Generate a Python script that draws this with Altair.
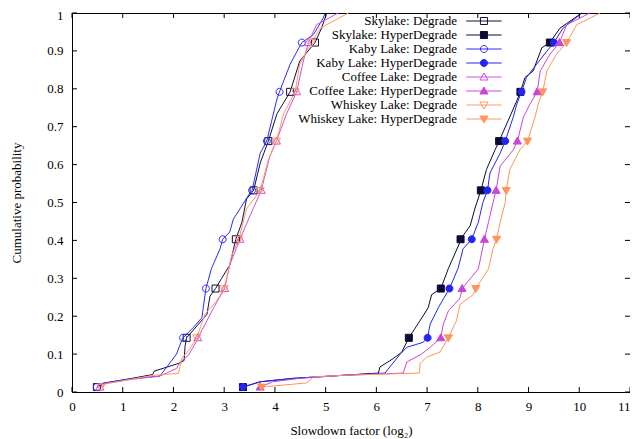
import altair as alt
import pandas as pd

SERIES = ["Skylake: Degrade", "Skylake: HyperDegrade", "Kaby Lake: Degrade",
          "Kaby Lake: HyperDegrade", "Coffee Lake: Degrade", "Coffee Lake: HyperDegrade",
          "Whiskey Lake: Degrade", "Whiskey Lake: HyperDegrade"]

# Skylake: Degrade
SD_X = [0.49, 0.61, 1.10, 1.59, 1.62, 2.09, 2.21, 2.23, 2.26, 2.66, 2.72, 2.83, 2.95, 3.11, 3.23,
        3.35, 3.44, 3.58, 3.71, 3.87, 4.04, 4.30, 4.49, 4.79, 4.92, 5.02]
SD_P = [0.013, 0.023, 0.034, 0.046, 0.055, 0.075, 0.083, 0.122, 0.143, 0.205, 0.253, 0.273, 0.300,
        0.335, 0.403, 0.448, 0.509, 0.532, 0.604, 0.662, 0.734, 0.792, 0.873, 0.922, 0.960, 1.0]
# Skylake: HyperDegrade
SH_X = [3.37, 3.71, 4.36, 5.34, 6.04, 6.07, 6.33, 6.50, 6.64, 6.86, 7.02, 7.09, 7.27, 7.42, 7.65,
        7.66, 7.85, 7.94, 8.06, 8.17, 8.34, 8.42, 8.63, 8.77, 8.84, 8.93, 9.09, 9.26, 9.42, 9.62, 10.05]
SH_P = [0.013, 0.027, 0.036, 0.044, 0.050, 0.066, 0.088, 0.105, 0.143, 0.188, 0.222, 0.257, 0.273,
        0.326, 0.396, 0.403, 0.439, 0.483, 0.532, 0.587, 0.639, 0.662, 0.726, 0.769, 0.792, 0.830,
        0.847, 0.908, 0.922, 0.960, 1.0]
# Kaby Lake: Degrade
KD_X = [0.49, 0.61, 1.10, 1.73, 1.87, 2.06, 2.16, 2.19, 2.39, 2.56, 2.64, 2.75, 2.92, 2.97, 3.11,
        3.18, 3.31, 3.51, 3.55, 3.71, 3.84, 4.04, 4.09, 4.30, 4.53, 4.76, 4.95, 4.99]
KD_P = [0.013, 0.023, 0.034, 0.042, 0.066, 0.100, 0.135, 0.143, 0.170, 0.196, 0.273, 0.326, 0.378,
        0.403, 0.422, 0.456, 0.483, 0.526, 0.532, 0.630, 0.662, 0.773, 0.792, 0.865, 0.922, 0.943,
        0.986, 1.0]
# Kaby Lake: HyperDegrade
KH_X = [3.37, 3.71, 4.36, 5.34, 6.17, 6.47, 6.60, 6.92, 7.01, 7.06, 7.22, 7.44, 7.61, 7.71, 7.88,
        8.01, 8.10, 8.19, 8.24, 8.44, 8.54, 8.70, 8.77, 8.86, 8.96, 9.16, 9.36, 9.50, 9.68, 10.05]
KH_P = [0.013, 0.027, 0.036, 0.044, 0.050, 0.100, 0.118, 0.131, 0.143, 0.179, 0.222, 0.273, 0.326,
        0.378, 0.403, 0.448, 0.500, 0.532, 0.578, 0.630, 0.662, 0.726, 0.760, 0.792, 0.830, 0.865,
        0.899, 0.922, 0.960, 1.0]
# Coffee Lake: Degrade
CD_X = [0.55, 0.65, 1.15, 1.73, 2.06, 2.13, 2.29, 2.46, 2.48, 2.66, 2.79, 3.01, 3.11, 3.31, 3.51,
        3.73, 3.90, 4.03, 4.23, 4.43, 4.56, 4.66, 4.82, 5.25]
CD_P = [0.013, 0.022, 0.033, 0.042, 0.062, 0.079, 0.096, 0.135, 0.143, 0.188, 0.222, 0.273, 0.335,
        0.403, 0.465, 0.532, 0.622, 0.662, 0.734, 0.792, 0.873, 0.922, 0.969, 1.0]
# Coffee Lake: HyperDegrade
CH_X = [3.71, 3.96, 4.49, 5.34, 6.53, 6.60, 6.89, 7.06, 7.27, 7.32, 7.42, 7.65, 7.69, 8.01, 8.08,
        8.13, 8.21, 8.30, 8.36, 8.44, 8.70, 8.78, 8.90, 9.03, 9.17, 9.23, 9.42, 9.61, 9.75, 10.21]
CH_P = [0.013, 0.027, 0.036, 0.044, 0.050, 0.079, 0.100, 0.118, 0.143, 0.179, 0.214, 0.248, 0.273,
        0.325, 0.370, 0.403, 0.448, 0.500, 0.532, 0.596, 0.639, 0.662, 0.726, 0.760, 0.792, 0.847,
        0.891, 0.922, 0.969, 1.0]
# Whiskey Lake: Degrade
WD_X = [0.57, 0.67, 1.15, 1.60, 2.10, 2.16, 2.33, 2.46, 2.62, 2.85, 3.00, 3.15, 3.29, 3.44, 3.71,
        3.87, 4.03, 4.17, 4.40, 4.49, 4.72, 4.89, 5.45]
WD_P = [0.013, 0.022, 0.033, 0.044, 0.049, 0.088, 0.115, 0.143, 0.205, 0.240, 0.273, 0.361, 0.403,
        0.483, 0.532, 0.613, 0.662, 0.734, 0.792, 0.865, 0.922, 0.960, 1.0]
# Whiskey Lake: HyperDegrade
WH_X = [3.74, 4.63, 4.76, 5.34, 6.85, 6.86, 6.99, 7.25, 7.42, 7.58, 7.65, 7.91, 7.96, 8.21, 8.30,
        8.37, 8.44, 8.54, 8.56, 8.63, 8.83, 8.98, 9.13, 9.19, 9.28, 9.36, 9.55, 9.75, 9.95, 10.41]
WH_P = [0.013, 0.024, 0.040, 0.044, 0.050, 0.075, 0.092, 0.105, 0.143, 0.188, 0.231, 0.257, 0.273,
        0.325, 0.378, 0.403, 0.448, 0.500, 0.532, 0.587, 0.639, 0.662, 0.726, 0.760, 0.792, 0.847,
        0.891, 0.922, 0.969, 1.0]

MARK_P = [0.013, 0.143, 0.273, 0.403, 0.532, 0.662, 0.792, 0.922]
X_TICKS = [0, 1, 2, 3, 4, 5, 6, 7, 8, 9, 10, 11]
Y_TICKS = [0, 0.1, 0.2, 0.3, 0.4, 0.5, 0.6, 0.7, 0.8, 0.9, 1]

XS = [SD_X, SH_X, KD_X, KH_X, CD_X, CH_X, WD_X, WH_X]
PS = [SD_P, SH_P, KD_P, KH_P, CD_P, CH_P, WD_P, WH_P]

# styles
COLORS = ["#0e0e3a", "#0a0a33", "#2b2bff", "#2424f5", "#cc50dc", "#c846d8", "#ff9a5e", "#ff955a"]
FILLS = ["transparent", "#0a0a33", "transparent", "#2424f5", "transparent", "#c846d8",
         "transparent", "#ff955a"]


def sq(cx):
    return f"M{cx - 1},-1H{cx + 1}V1H{cx - 1}Z"


def ci(cx):
    return f"M{cx + 1},0A1,1 0 1,1 {cx - 1},0A1,1 0 1,1 {cx + 1},0Z"


def tu(cx):
    return f"M{cx},-1.15L{cx + 1.15},0.85H{cx - 1.15}Z"


def td(cx):
    return f"M{cx},1.15L{cx + 1.15},-0.85H{cx - 1.15}Z"


SHAPE_FNS = [sq, sq, ci, ci, tu, tu, td, td]
SHAPES = [f(0) for f in SHAPE_FNS]
# legend sample: line segment + marker, drawn to the right of the (right-aligned) label
LEG_SHAPES = ["M4.5,0H14.6" + f(9.55) for f in SHAPE_FNS]

rows = []
for name, xs, ps in zip(SERIES, XS, PS):
    for x, p in zip(xs, ps):
        rows.append({"series": name, "x": x, "p": p, "mark": round(p, 3) in MARK_P})
df = pd.DataFrame(rows)
xt = pd.DataFrame({"x": X_TICKS})
yt = pd.DataFrame({"p": Y_TICKS})

W, H = 558, 379
TL = 5
FONT = "Liberation Serif"
MS = 49

xscale = alt.Scale(domain=[0, 11], nice=False, zero=False)
yscale = alt.Scale(domain=[0, 1], nice=False, zero=False)
xaxis = alt.Axis(values=X_TICKS, ticks=False, domain=False, grid=False, labelFlush=False,
                 labelAlign={"condition": {"test": "datum.value === 11", "value": "right"},
                             "value": "center"},
                 labelFontSize=13, labelPadding=8, labelColor="black",
                 title="Slowdown factor (log₂)", titleFontSize=13, titleFontWeight="normal",
                 titleColor="black", titlePadding=11)
yaxis = alt.Axis(values=Y_TICKS, format="~g", ticks=False, domain=False, grid=False,
                 labelFlush=False, labelFontSize=13, labelPadding=9, labelColor="black",
                 labelOffset={"condition": {"test": "datum.value === 1", "value": 2},
                              "value": 0},
                 title="Cumulative probability", titleFontSize=13, titleFontWeight="normal",
                 titleColor="black", titlePadding=23)
X = alt.X("x:Q", scale=xscale, axis=xaxis)
Y = alt.Y("p:Q", scale=yscale, axis=yaxis)

legend = alt.Legend(title=None, orient="none", legendX=372, legendY=1.5, padding=0,
                    labelAlign="right", labelOffset=0, symbolOffset=0,
                    labelFontSize=13, labelFont=FONT, labelColor="black", labelLimit=400,
                    symbolSize=MS, symbolStrokeWidth=1, symbolOpacity=1, rowPadding=-3.9)

stroke_scale = alt.Scale(domain=SERIES, range=COLORS)
fill_scale = alt.Scale(domain=SERIES, range=FILLS)

lines = alt.Chart(df).mark_line(strokeWidth=1).encode(
    x=X, y=Y,
    stroke=alt.Stroke("series:N", scale=stroke_scale, legend=None),
    order=alt.Order("p:Q"),
)

points = alt.Chart(df).transform_filter("datum.mark").mark_point(
    size=MS, strokeWidth=1, opacity=1, filled=False
).encode(
    x=X, y=Y,
    stroke=alt.Stroke("series:N", scale=stroke_scale, legend=None),
    fill=alt.Fill("series:N", scale=fill_scale, legend=None),
    shape=alt.Shape("series:N", scale=alt.Scale(domain=SERIES, range=SHAPES), legend=None),
)

# legend-only layer (no rows drawn); its symbols combine a line sample and the marker
key = alt.Chart(df).transform_filter("false").mark_point(
    size=MS, strokeWidth=1, opacity=1, filled=False
).encode(
    x=X, y=Y,
    stroke=alt.Stroke("series:N", scale=stroke_scale, legend=legend),
    fill=alt.Fill("series:N", scale=fill_scale, legend=legend),
    shape=alt.Shape("series:N", scale=alt.Scale(domain=SERIES, range=LEG_SHAPES), legend=legend),
)

tick_style = dict(color="black", strokeWidth=1)
bottom = alt.Chart(xt).mark_rule(**tick_style).encode(x=X, y=alt.value(H), y2=alt.value(H - TL))
top = alt.Chart(xt).mark_rule(**tick_style).encode(x=X, y=alt.value(0), y2=alt.value(TL))
left = alt.Chart(yt).mark_rule(**tick_style).encode(y=Y, x=alt.value(0), x2=alt.value(TL))
right = alt.Chart(yt).mark_rule(**tick_style).encode(y=Y, x=alt.value(W - TL), x2=alt.value(W))

chart = alt.layer(lines, points, key, bottom, top, left, right).resolve_scale(
    stroke="independent", fill="independent", shape="independent"
).properties(
    width=W, height=H,
    autosize=alt.AutoSizeParams(type="none"),
    padding={"left": 64, "top": 5, "right": 0, "bottom": 46},
).configure(font=FONT).configure_view(stroke="black", strokeWidth=1)

chart.save("out.html", embed_options={"renderer": "svg", "actions": False})
